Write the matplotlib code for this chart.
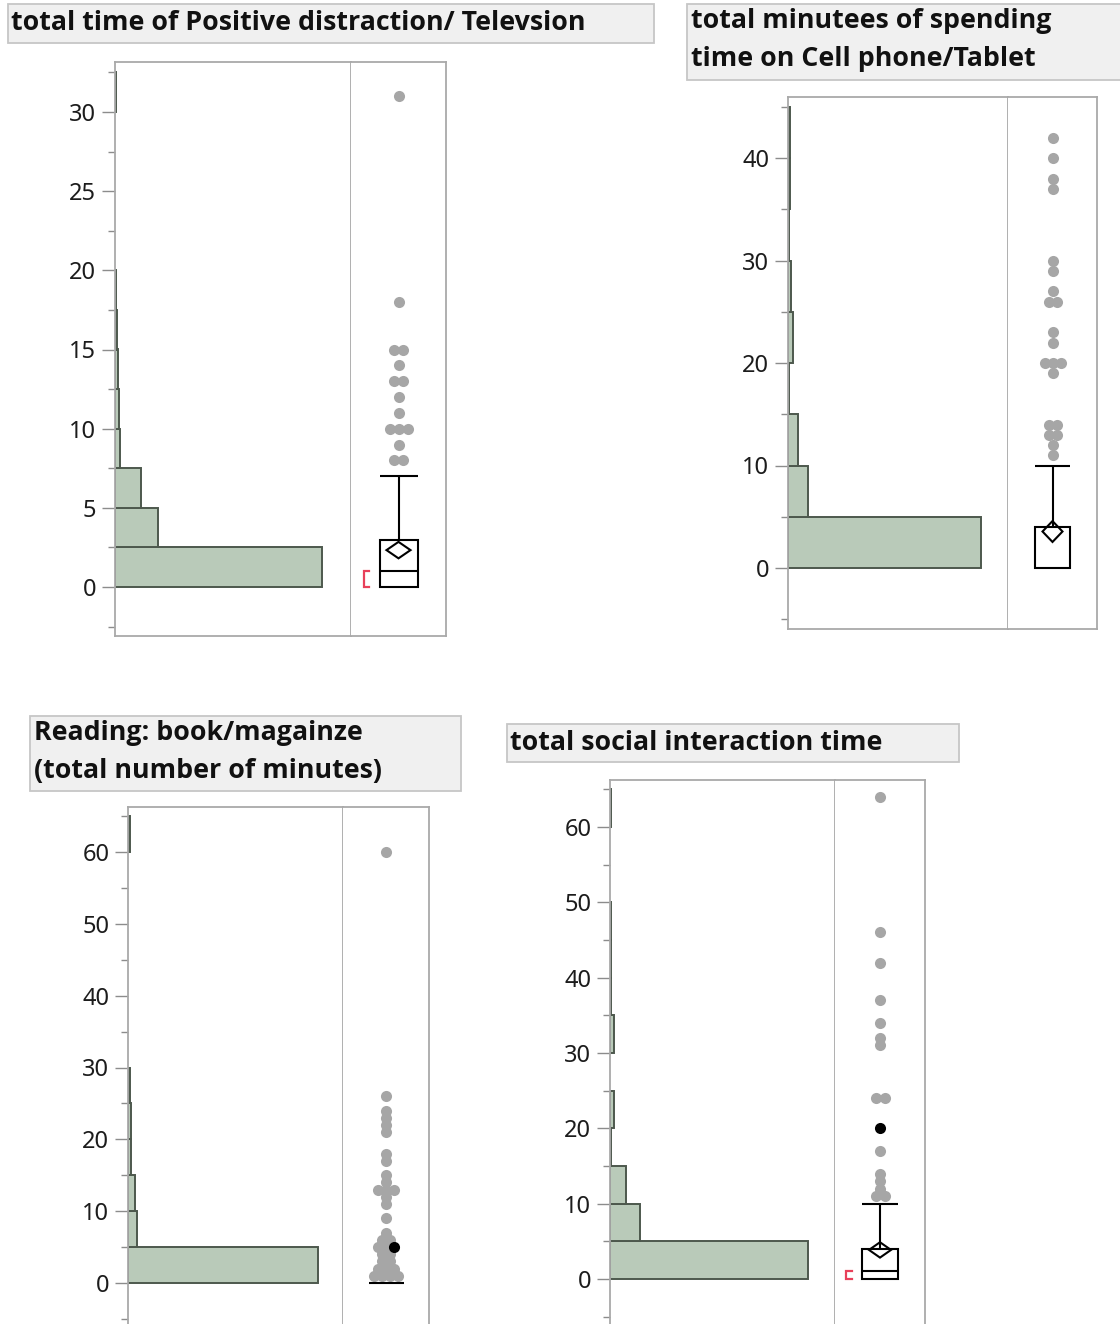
import numpy as np
import matplotlib
matplotlib.use("Agg")
import matplotlib.pyplot as plt
from matplotlib.patches import Rectangle, Polygon
from matplotlib.ticker import MultipleLocator

W, H = 1120, 1324

# ---------------- data ----------------
tv_title = ["total time of Positive distraction/ Televsion"]
tv_bin_width = 2.5
tv_counts = [270, 56, 34, 6, 5, 4, 2, 1, 0, 0, 0, 0, 1]
tv_outliers = [31, 18, 15, 15, 14, 13, 13, 12, 11, 10, 10, 10, 9, 8, 8]
tv_highlight = []
tv_quartiles = (0, 1, 3)          # Q1, median, Q3
tv_whisker = 7
tv_mean, tv_mean_ci = 2.33, 0.52
tv_shortest_half = (0, 1)

phone_title = ["total minutees of spending", "time on Cell phone/Tablet"]
phone_bin_width = 5
phone_counts = [214, 22, 11, 1, 5, 3, 1, 2, 2]
phone_outliers = [42, 40, 38, 37, 30, 29, 27, 26, 26, 23, 22, 20, 20, 20, 19,
                  14, 14, 13, 13, 12, 11]
phone_highlight = []
phone_quartiles = (0, 0, 4)
phone_whisker = 10
phone_mean, phone_mean_ci = 3.56, 1.02
phone_shortest_half = None

read_title = ["Reading: book/magainze", "(total number of minutes)"]
read_bin_width = 5
read_counts = [110, 5, 4, 2, 2, 1, 0, 0, 0, 0, 0, 0, 1]
read_outliers = [60, 26, 24, 23, 22, 21, 18, 17, 15, 14, 13, 13, 13, 12, 11,
                 9, 7, 6, 6, 5, 5, 4, 4, 3, 3, 2, 2, 2, 1, 1, 1, 1]
read_highlight = [5]
read_quartiles = (0, 0, 0)
read_whisker = 0
read_mean, read_mean_ci = None, None
read_shortest_half = None

social_title = ["total social interaction time"]
social_bin_width = 5
social_counts = [138, 21, 11, 1, 3, 0, 3, 1, 1, 1, 0, 0, 1]
social_outliers = [64, 46, 42, 37, 34, 32, 31, 24, 24, 17, 14, 13, 12, 11, 11]
social_highlight = [20]
social_quartiles = (0, 1, 4)
social_whisker = 10
social_mean, social_mean_ci = 3.86, 1.02
social_shortest_half = (0, 1)

# ---------------- styling ----------------
TITLE_FONT = "Open Sans"
TICK_FONT = "Noto Sans"
FRAME = "#a9a9a9"
BAR_FILL = "#b9cab9"
BAR_EDGE = "#4d584d"
DOT = "#a6a6a6"
BRACKET = "#e8405a"

fig = plt.figure(figsize=(W / 100, H / 100), dpi=100)
fig.patch.set_facecolor("white")


def rect(x0, y0, x1, y1):
    return [x0 / W, 1 - y1 / H, (x1 - x0) / W, (y1 - y0) / H]


def spread(values, spacing):
    vals = np.asarray(values, float)
    offs = np.zeros(len(vals))
    for v in np.unique(vals):
        idx = np.where(vals == v)[0]
        k = len(idx)
        offs[idx] = (np.arange(k) - (k - 1) / 2) * spacing
    return offs


def title_box(lines, box, text_x, line_y, size):
    x0, y0, x1, y1 = box
    fig.add_artist(Rectangle((x0 / W, 1 - y1 / H), (x1 - x0) / W, (y1 - y0) / H,
                             transform=fig.transFigure, facecolor="#f0f0f0",
                             edgecolor="#c6c6c6", lw=1.3))
    for txt, yc in zip(lines, line_y):
        fig.text(text_x / W, 1 - yc / H, txt, ha="left", va="center",
                 fontsize=size, fontweight="bold", family=TITLE_FONT,
                 color="#111111")


def panel(frame, split, y_zero, ref_val, ref_y, major, minor, bin_width,
          counts, bar_px, outliers, highlight, quartiles, whisker,
          mean, mean_ci, shortest_half, box_w, diamond_hw, dot_gap):
    fx0, fy0, fx1, fy1 = frame
    ppu = (y_zero - ref_y) / ref_val
    ylim = ((y_zero - fy1) / ppu, (y_zero - fy0) / ppu)

    # histogram
    axh = fig.add_axes(rect(fx0, fy0, split, fy1))
    counts = np.asarray(counts, float)
    lefts = np.arange(len(counts)) * bin_width
    keep = counts > 0
    axh.barh(lefts[keep], counts[keep], height=bin_width, align="edge",
             color=BAR_FILL, edgecolor=BAR_EDGE, linewidth=1.4, zorder=2)
    axh.set_xlim(0, counts.max() * (split - fx0) / bar_px)
    axh.set_ylim(*ylim)
    axh.yaxis.set_major_locator(MultipleLocator(major))
    axh.yaxis.set_minor_locator(MultipleLocator(minor))
    axh.tick_params(axis="y", which="major", length=9.5, width=1.0,
                    color="#8c8c8c", pad=4, labelsize=17, labelcolor="#1c1c1c")
    axh.tick_params(axis="y", which="minor", length=5, width=1.0, color="#8c8c8c")
    axh.set_xticks([])
    for lab in axh.get_yticklabels():
        lab.set_family(TICK_FONT)
    for s in axh.spines.values():
        s.set_color(FRAME)
        s.set_linewidth(1.3)

    # outlier box plot
    bw_px = fx1 - split
    axb = fig.add_axes(rect(split, fy0, fx1, fy1))
    axb.set_xlim(0, bw_px)
    axb.set_ylim(*ylim)
    axb.set_xticks([])
    axb.set_yticks([])
    axb.spines["left"].set_visible(False)
    for s in ("top", "right", "bottom"):
        axb.spines[s].set_color(FRAME)
        axb.spines[s].set_linewidth(1.3)
    c = bw_px / 2

    pts = list(outliers) + list(highlight)
    offs = spread(pts, dot_gap)
    n_gray = len(outliers)
    axb.plot(c + offs[:n_gray], outliers, "o", ms=8, color=DOT, mec="none", zorder=3)
    if highlight:
        axb.plot(c + offs[n_gray:], highlight, "o", ms=8, color="black",
                 mec="none", zorder=4)

    q1, med, q3 = quartiles
    lw = 1.5
    if q3 > q1:
        axb.add_patch(Rectangle((c - box_w / 2, q1), box_w, q3 - q1, fill=False,
                                edgecolor="black", lw=lw, zorder=5))
        if med > q1:
            axb.hlines(med, c - box_w / 2, c + box_w / 2, color="black", lw=lw, zorder=5)
        axb.vlines(c, q3, whisker, color="black", lw=lw, zorder=5)
        axb.hlines(whisker, c - box_w / 2, c + box_w / 2, color="black", lw=lw, zorder=5)
    else:
        axb.hlines(q1, c - box_w / 2, c + box_w / 2, color="black", lw=lw, zorder=5)
    if mean is not None:
        axb.add_patch(Polygon([(c - diamond_hw, mean), (c, mean + mean_ci),
                               (c + diamond_hw, mean), (c, mean - mean_ci)],
                              closed=True, fill=False, edgecolor="black",
                              lw=lw, zorder=6))
    if shortest_half is not None:
        lo, hi = shortest_half
        bx = c - box_w / 2 - 16
        axb.plot([bx + 5.5, bx, bx, bx + 5.5], [hi, hi, lo, lo],
                 color=BRACKET, lw=1.6, zorder=5, solid_joinstyle="miter")


# ---------------- panels ----------------
TS = 19.3
title_box(tv_title, (8, 4, 654, 43), 11, [23], TS)
panel((115, 62, 446, 636), 351, 587, 30, 112, 5, 2.5, tv_bin_width,
      tv_counts, 207, tv_outliers, tv_highlight, tv_quartiles, tv_whisker,
      tv_mean, tv_mean_ci, tv_shortest_half, 38, 12, 9)

title_box(phone_title, (687, 4, 1126, 80), 691, [21, 59], TS)
panel((788, 97, 1097, 629), 1008, 568, 40, 158, 10, 5, phone_bin_width,
      phone_counts, 193, phone_outliers, phone_highlight, phone_quartiles,
      phone_whisker, phone_mean, phone_mean_ci, phone_shortest_half, 35, 10, 8)

title_box(read_title, (30, 716, 461, 791), 34, [733, 771], TS)
panel((128, 807, 429, 1345), 343, 1283, 60, 852, 10, 5, read_bin_width,
      read_counts, 189.6, read_outliers, read_highlight, read_quartiles,
      read_whisker, read_mean, read_mean_ci, read_shortest_half, 35, 10, 8)

title_box(social_title, (507, 724, 959, 762), 510, [743], TS)
panel((610, 780, 925, 1345), 835, 1279, 60, 827, 10, 5, social_bin_width,
      social_counts, 198, social_outliers, social_highlight, social_quartiles,
      social_whisker, social_mean, social_mean_ci, social_shortest_half, 36, 11, 9)

fig.savefig("out.png", dpi=100)
